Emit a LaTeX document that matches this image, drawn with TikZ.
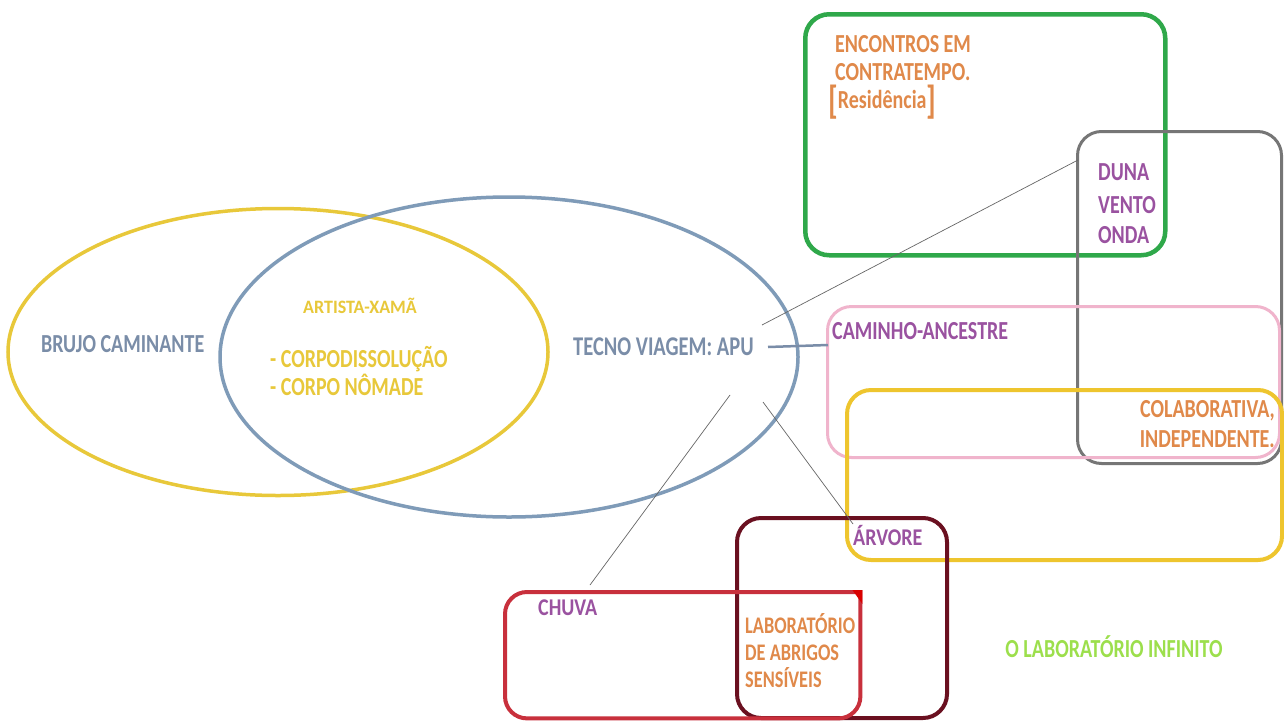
\documentclass[tikz,border=0pt]{standalone}
\usepackage{fontspec}
\setmainfont{Carlito}
\usetikzlibrary{shapes.geometric}
\definecolor{yell}{HTML}{E8C83A}
\definecolor{steel}{HTML}{7F9BB8}
\definecolor{slate}{HTML}{7A8DA8}
\definecolor{grn}{HTML}{2FA84A}
\definecolor{gry}{HTML}{767676}
\definecolor{pnk}{HTML}{F0B4CC}
\definecolor{ybox}{HTML}{EEC52E}
\definecolor{maroon}{HTML}{6A1020}
\definecolor{rred}{HTML}{C8303C}
\definecolor{orng}{HTML}{E0894A}
\definecolor{purp}{HTML}{9A52A0}
\definecolor{lgrn}{HTML}{9CDF4C}
\newcommand{\stretchtxt}[2][1.3]{\scalebox{1}[#1]{#2}}
\tikzset{
  x=1pt, y=-1pt,
  txt/.style={font=\bfseries\fontsize{20}{22}\selectfont, inner sep=0pt, anchor=base west},
  smalltxt/.style={txt, font=\bfseries\fontsize{18.3}{20}\selectfont},
  box/.style={draw, rounded corners=24pt, anchor=north west, inner sep=0pt},
  link/.style={draw=gray!80!black, line width=0.7pt},
}
\begin{document}
\begin{tikzpicture}
\useasboundingbox[fill=white] (0,0) rectangle (1284,723);
% ellipses
\node[ellipse, draw=yell, line width=3.5pt, minimum width=540pt, minimum height=287pt] (brujo) at (278,352) {};
\node[ellipse, draw=steel, line width=3.5pt, minimum width=578pt, minimum height=320pt] (tecno) at (509,357) {};
% boxes
\node[box, draw=grn, line width=4.5pt, minimum width=360pt, minimum height=241pt] (green) at (803,12) {};
\node[box, draw=gry, line width=3pt, minimum width=204pt, minimum height=332pt] (grayb) at (1076,130) {};
\node[box, draw=pnk, line width=3pt, minimum width=452pt, minimum height=151pt] (pinkb) at (826,305) {};
\node[box, draw=ybox, line width=4pt, minimum width=435pt, minimum height=170pt] (yelb) at (845,388) {};
\node[box, draw=maroon, line width=4pt, minimum width=210pt, minimum height=200pt] (marb) at (735,516) {};
\node[box, draw=none, minimum width=355pt, minimum height=126pt] (redb) at (505,592) {};
\draw[rred, line width=4pt, rounded corners=22pt] (redb.north east) -- (redb.north west) -- (redb.south west) -- (redb.south east) -- ([yshift=2pt]redb.north east);
\fill[red!85!black] ([xshift=2pt,yshift=2pt]redb.north east) -- ++(-10,0) -- ++(10,14) -- cycle;
% texts
\node[txt, text=slate] (tbrujo) at (41,352) {\stretchtxt{BRUJO CAMINANTE}};
\node[txt, text=yell, anchor=base, font=\bfseries\fontsize{18}{19}\selectfont] (tartista) at (360,313) {\stretchtxt[1.05]{ARTISTA-XAMÃ}};
\node[txt, text=yell] (tcorpo1) at (270,367) {\stretchtxt{- CORPODISSOLUÇÃO}};
\node[txt, text=yell] (tcorpo2) at (270,395) {\stretchtxt{- CORPO NÔMADE}};
\node[txt, text=slate, font=\bfseries\fontsize{20.5}{22}\selectfont] (tapu) at (573,355) {\stretchtxt[1.32]{TECNO VIAGEM: APU}};
\node[txt, text=orng] (tenc1) at (835,52) {\stretchtxt{ENCONTROS EM}};
\node[txt, text=orng] (tenc2) at (835,80) {\stretchtxt{CONTRATEMPO.}};
\node[txt, text=orng] (tres) at (828,108) {\stretchtxt{\raisebox{-4pt}{\fontsize{30}{30}\selectfont[}Residência\raisebox{-4pt}{\fontsize{30}{30}\selectfont]}}};
\node[txt, text=purp] (tduna) at (1098,180) {\stretchtxt{DUNA}};
\node[txt, text=purp] (tvento) at (1098,213) {\stretchtxt{VENTO}};
\node[txt, text=purp] (tonda) at (1098,243) {\stretchtxt{ONDA}};
\node[txt, text=purp] (tcam) at (832,339) {\stretchtxt{CAMINHO-ANCESTRE}};
\node[txt, text=orng, anchor=base east] (tcol) at (1275,417) {\stretchtxt{COLABORATIVA,}};
\node[txt, text=orng, anchor=base east] (tind) at (1275,447) {\stretchtxt{INDEPENDENTE.}};
\node[txt, text=purp] (tarv) at (853,545) {\stretchtxt[1.2]{ÁRVORE}};
\node[txt, text=purp] (tchuva) at (538,615) {\stretchtxt[1.2]{CHUVA}};
\node[smalltxt, text=orng] (tlab1) at (745,633) {\stretchtxt{LABORATÓRIO}};
\node[smalltxt, text=orng] (tlab2) at (745,660) {\stretchtxt{DE ABRIGOS}};
\node[smalltxt, text=orng] (tlab3) at (745,687) {\stretchtxt{SENSÍVEIS}};
\node[txt, text=lgrn, anchor=base] (tinf) at (1114,657) {\stretchtxt{O LABORATÓRIO INFINITO}};
% connector ends
\coordinate (a1) at (762,325);
\coordinate (b1) at (1078,160);
\coordinate (a2) at (768,347);
\coordinate (b2) at (828,345);
\coordinate (a3) at (730,395);
\coordinate (b3) at (590,585);
\coordinate (a4) at (763,402);
\coordinate (b4) at (853,524);
\draw[link] (a1) -- (b1);
\draw[draw=slate, line width=2.5pt] (a2) -- (b2);
\draw[link] (a3) -- (b3);
\draw[link] (a4) -- (b4);
\end{tikzpicture}
\end{document}
